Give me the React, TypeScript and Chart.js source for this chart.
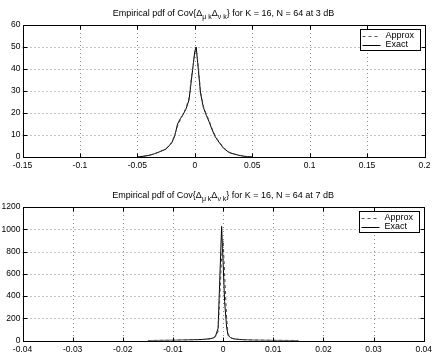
import React, { useEffect, useRef } from "react";
import { Chart, registerables } from "chart.js";
Chart.register(...registerables);

// ---- Data (top panel, 3 dB) ----
const topX = [-0.05, -0.045, -0.04, -0.035, -0.03, -0.025, -0.02, -0.0175, -0.015, -0.0125, -0.01, -0.0075, -0.005, -0.0025, 0, 0.0012, 0.0025, 0.005, 0.0075, 0.01, 0.0125, 0.015, 0.0175, 0.02, 0.025, 0.03, 0.035, 0.04, 0.045, 0.05];
const topExact = [0.1, 0.3, 0.7, 1.5, 2.5, 3.6, 6.5, 9.5, 15, 17.5, 19.5, 22, 26, 37, 48, 50, 43, 29, 22.5, 19, 16, 12.5, 9.5, 7.5, 4, 2, 1.2, 0.6, 0.2, 0.05];
const topApprox = [0.1, 0.3, 0.8, 1.4, 2.6, 3.8, 6.8, 10, 14, 17, 19.5, 22.5, 27, 38, 47, 49, 44, 30, 23, 19.5, 16.5, 13, 10, 7.8, 4.2, 2.2, 1.3, 0.7, 0.25, 0.05];

// ---- Data (bottom panel, 7 dB) ----
const botX = [-0.015, -0.01, -0.006, -0.004, -0.003, -0.002, -0.0015, -0.001, -0.0007, -0.0003, 0, 0.0003, 0.0007, 0.001, 0.0015, 0.002, 0.003, 0.004, 0.006, 0.01, 0.015];
const botExact = [0, 2, 6, 10, 14, 22, 40, 110, 500, 1025, 700, 350, 120, 45, 25, 16, 10, 6, 3, 1, 0];
const botApprox = [0, 2, 5, 9, 13, 20, 35, 80, 350, 750, 900, 600, 200, 60, 28, 17, 11, 7, 3, 1, 0];

const seriesNames = ["Approx", "Exact"];
const titleTop = ["Empirical pdf of Cov{Δ", "μ k", "Δ", "ν k", "} for K = 16, N = 64 at 3 dB"];
const titleBot = ["Empirical pdf of Cov{Δ", "μ k", "Δ", "ν k", "} for K = 16, N = 64 at 7 dB"];

const FONT = '"Liberation Sans", Arial, Helvetica, sans-serif';

function fmt(v: number) {
  return String(Math.round(v * 10000) / 10000);
}

function makeChart(
  canvas: HTMLCanvasElement,
  xs: number[],
  exact: number[],
  approx: number[],
  xr: [number, number, number],
  yr: [number, number, number],
  title: string[],
  padTop: number,
  xAxisH: number
) {
  const framePlugin = {
    id: "matlabFrame",
    beforeDatasetsDraw(chart: any) {
      const { ctx, chartArea: a, scales } = chart;
      ctx.save();
      ctx.strokeStyle = "#8a8a8a";
      ctx.lineWidth = 1;
      ctx.setLineDash([1, 3]);
      scales.x.ticks.forEach((t: any) => {
        const px = Math.round(scales.x.getPixelForValue(t.value)) + 0.5;
        if (px <= a.left + 1 || px >= a.right - 1) return;
        ctx.beginPath();
        ctx.moveTo(px, a.top);
        ctx.lineTo(px, a.bottom);
        ctx.stroke();
      });
      scales.y.ticks.forEach((t: any) => {
        const py = Math.round(scales.y.getPixelForValue(t.value)) + 0.5;
        if (py <= a.top + 1 || py >= a.bottom - 1) return;
        ctx.beginPath();
        ctx.moveTo(a.left, py);
        ctx.lineTo(a.right, py);
        ctx.stroke();
      });
      ctx.restore();
    },
    afterDatasetsDraw(chart: any) {
      const { ctx, chartArea: a, scales } = chart;
      ctx.save();
      ctx.setLineDash([]);
      ctx.strokeStyle = "#000";
      ctx.lineWidth = 1;
      const L = Math.round(a.left) + 0.5, R = Math.round(a.right) + 0.5;
      const T = Math.round(a.top) + 0.5, B = Math.round(a.bottom) + 0.5;
      ctx.strokeRect(L, T, R - L, B - T);
      const tl = 4;
      scales.x.ticks.forEach((t: any) => {
        const px = Math.round(scales.x.getPixelForValue(t.value)) + 0.5;
        ctx.beginPath();
        ctx.moveTo(px, B); ctx.lineTo(px, B - tl);
        ctx.moveTo(px, T); ctx.lineTo(px, T + tl);
        ctx.stroke();
      });
      scales.y.ticks.forEach((t: any) => {
        const py = Math.round(scales.y.getPixelForValue(t.value)) + 0.5;
        ctx.beginPath();
        ctx.moveTo(L, py); ctx.lineTo(L + tl, py);
        ctx.moveTo(R, py); ctx.lineTo(R - tl, py);
        ctx.stroke();
      });
      // legend box
      const bw = 60, bh = 21;
      const bx = Math.round(a.right - 4.5 - bw) + 0.5;
      const by = Math.round(a.top + 4) + 0.5;
      ctx.fillStyle = "#fff";
      ctx.fillRect(bx, by, bw, bh);
      ctx.strokeRect(bx, by, bw, bh);
      ctx.font = "9px " + FONT;
      ctx.textBaseline = "middle";
      ctx.fillStyle = "#000";
      const rows = [by + 6, by + 15];
      seriesNames.forEach((n, i) => {
        ctx.beginPath();
        ctx.strokeStyle = i === 0 ? "#555" : "#000";
        ctx.setLineDash(i === 0 ? [3, 3] : []);
        ctx.moveTo(bx + 2, Math.round(rows[i]) + 0.5);
        ctx.lineTo(bx + 20, Math.round(rows[i]) + 0.5);
        ctx.stroke();
        ctx.setLineDash([]);
        ctx.fillText(n, bx + 25, rows[i]);
      });
      ctx.restore();
    },
    afterDraw(chart: any) {
      const { ctx, chartArea: a } = chart;
      ctx.save();
      const big = "9px " + FONT, small = "7px " + FONT;
      let w = 0;
      title.forEach((p, i) => {
        ctx.font = i % 2 === 1 ? small : big;
        w += ctx.measureText(p).width;
      });
      let x = (a.left + a.right) / 2 - w / 2;
      const base = padTop - 9.5;
      ctx.fillStyle = "#000";
      ctx.textBaseline = "alphabetic";
      title.forEach((p, i) => {
        const sub = i % 2 === 1;
        ctx.font = sub ? small : big;
        ctx.fillText(p, x, sub ? base + 3 : base);
        x += ctx.measureText(p).width;
      });
      ctx.restore();
    },
  };

  return new Chart(canvas, {
    type: "line",
    data: {
      datasets: [
        {
          label: seriesNames[0],
          data: xs.map((x, i) => ({ x, y: approx[i] })),
          borderColor: "#444",
          borderWidth: 1,
          borderDash: [3, 3],
          pointRadius: 0,
          tension: 0,
        },
        {
          label: seriesNames[1],
          data: xs.map((x, i) => ({ x, y: exact[i] })),
          borderColor: "#000",
          borderWidth: 1,
          pointRadius: 0,
          tension: 0,
        },
      ],
    },
    plugins: [framePlugin],
    options: {
      responsive: false,
      animation: false,
      events: [],
      layout: { padding: { top: padTop, right: 11.5, left: 0, bottom: 0 } },
      plugins: { legend: { display: false }, title: { display: false }, tooltip: { enabled: false } },
      scales: {
        x: {
          type: "linear",
          min: xr[0],
          max: xr[1],
          grid: { display: false, drawTicks: false },
          border: { display: false },
          afterFit(s: any) { s.height = xAxisH; },
          ticks: {
            stepSize: xr[2],
            autoSkip: false,
            maxRotation: 0,
            padding: 4,
            color: "#000",
            font: { family: FONT, size: 8.5 },
            callback: (v: any) => fmt(Number(v)),
          },
        },
        y: {
          type: "linear",
          min: yr[0],
          max: yr[1],
          grid: { display: false, drawTicks: false },
          border: { display: false },
          afterFit(s: any) { s.width = 22.5; },
          ticks: {
            stepSize: yr[2],
            padding: 2,
            color: "#000",
            font: { family: FONT, size: 8.5 },
            callback: (v: any) => fmt(Number(v)),
          },
        },
      },
    } as any,
  });
}

export default function App() {
  const r1 = useRef<HTMLCanvasElement>(null);
  const r2 = useRef<HTMLCanvasElement>(null);
  useEffect(() => {
    const c1 = makeChart(r1.current!, topX, topExact, topApprox, [-0.15, 0.2, 0.05], [0, 60, 10], titleTop, 25, 20);
    const c2 = makeChart(r2.current!, botX, botExact, botApprox, [-0.04, 0.04, 0.01], [0, 1200, 200], titleBot, 30, 13.5);
    return () => { c1.destroy(); c2.destroy(); };
  }, []);
  return (
    <div style={{ position: "relative", width: 436, height: 354, background: "#fff" }}>
      <style>{"body{margin:0;background:#fff}"}</style>
      <canvas ref={r1} width={436} height={177} style={{ position: "absolute", left: 0, top: 0 }} />
      <canvas ref={r2} width={436} height={177} style={{ position: "absolute", left: 0, top: 177 }} />
    </div>
  );
}
